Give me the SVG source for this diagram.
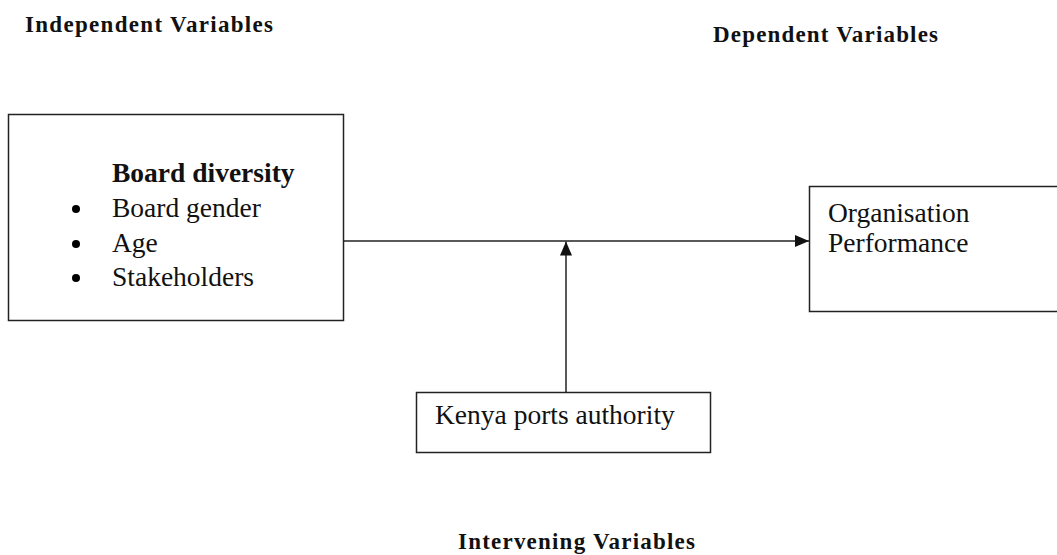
<svg xmlns="http://www.w3.org/2000/svg" width="1057" height="555" viewBox="0 0 1057 555">
<style>
.box{fill:#fff;stroke:#222;stroke-width:1.5}
.t{font-family:"Liberation Serif","Times New Roman",serif;font-size:27.5px;fill:#111}
.b{font-weight:bold}
.h{font-family:"Liberation Serif","Times New Roman",serif;font-size:23px;font-weight:bold;fill:#111}
.ln{stroke:#222;stroke-width:1.5;fill:none}
</style>
<defs>
<marker id="arr" viewBox="0 0 14 12" refX="14" refY="6" markerWidth="14" markerHeight="12" markerUnits="userSpaceOnUse" orient="auto">
<path d="M0,0 L14,6 L0,12 Z" fill="#111"/>
</marker>
</defs>
<rect width="1057" height="555" fill="#fff"/>
<text class="h" x="25" y="32" textLength="248" lengthAdjust="spacing">Independent Variables</text>
<text class="h" x="713" y="42" textLength="225" lengthAdjust="spacing">Dependent Variables</text>
<text class="h" x="458" y="549" textLength="237" lengthAdjust="spacing">Intervening Variables</text>
<g id="connectors">
<line class="ln" x1="343" y1="241" x2="809" y2="241" marker-end="url(#arr)"/>
<line class="ln" x1="566" y1="392" x2="566" y2="241.5" marker-end="url(#arr)"/>
</g>
<g id="board-diversity">
<rect class="box" x="8.5" y="114.5" width="335" height="206"/>
<text class="t b" x="112" y="182">Board diversity</text>
<circle cx="76" cy="209" r="4" fill="#000"/>
<circle cx="76" cy="244" r="4" fill="#000"/>
<circle cx="76" cy="278" r="4" fill="#000"/>
<text class="t" x="112" y="217">Board gender</text>
<text class="t" x="112" y="252">Age</text>
<text class="t" x="112" y="286">Stakeholders</text>
</g>
<g id="organisation-performance">
<rect class="box" x="809.5" y="186.5" width="260" height="125"/>
<text class="t" x="828" y="222">Organisation</text>
<text class="t" x="828" y="252">Performance</text>
</g>
<g id="kenya-ports-authority">
<rect class="box" x="416.5" y="392.5" width="294" height="60"/>
<text class="t" x="435" y="424">Kenya ports authority</text>
</g>
</svg>
